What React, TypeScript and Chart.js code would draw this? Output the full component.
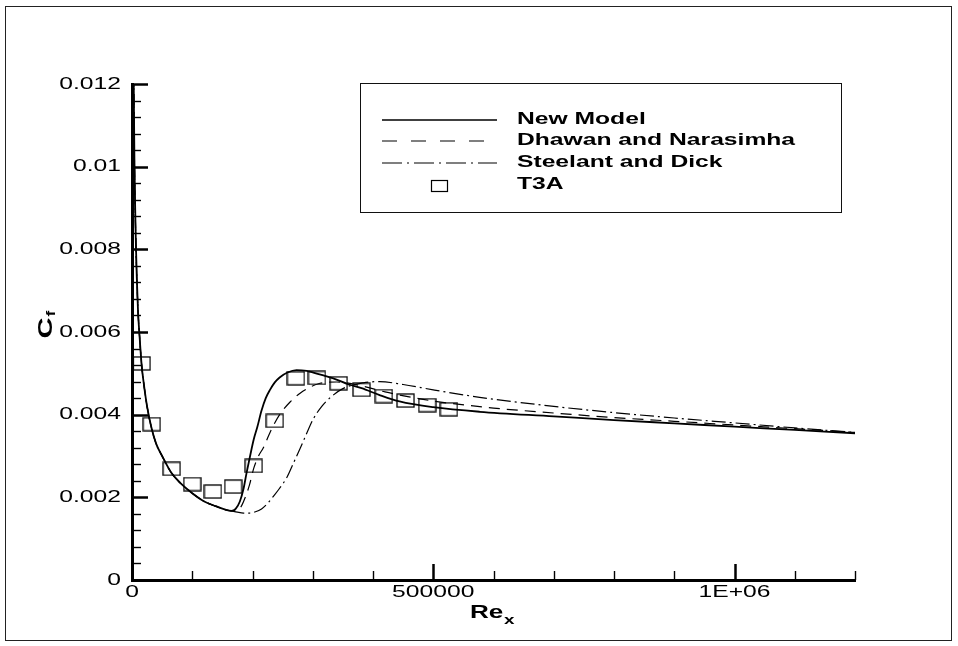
import React, { useEffect, useRef } from 'react';
import { Chart, registerables } from 'chart.js';

Chart.register(...registerables);

// ---- Data ----
const LAMINAR_RE = [2000, 3000, 4000, 5000, 6500, 8000, 10000, 13000, 16000, 20000, 25000, 32000, 40000, 50000, 65000, 80000, 100000, 120000, 140000, 155000];
const LAMINAR_CF = [0.0135, 0.0118, 0.0102, 0.0092, 0.0081, 0.0073, 0.0065, 0.0058, 0.0052, 0.0047, 0.0042, 0.0037, 0.0033, 0.0030, 0.0026, 0.00235, 0.0021, 0.0019, 0.00178, 0.0017];

const NEW_RE = [165000, 172000, 179000, 185000, 190000, 196000, 202000, 208000, 215000, 222000, 229000, 237000, 245000, 258000, 273000, 290000, 301000, 320000, 334000, 360000, 381000, 410000, 444000, 500000, 577000, 700000, 800000, 900000, 1000000, 1100000, 1200000];
const NEW_CF = [0.00167, 0.00172, 0.0019, 0.0022, 0.00258, 0.003, 0.0034, 0.0037, 0.0041, 0.0044, 0.0046, 0.00478, 0.0049, 0.00502, 0.00508, 0.00506, 0.00502, 0.00494, 0.00488, 0.00473, 0.00464, 0.00448, 0.00432, 0.00418, 0.00407, 0.00396, 0.00387, 0.00379, 0.00371, 0.00363, 0.00355];

const DN_RE = [165000, 175000, 182000, 188000, 195000, 202000, 210000, 218000, 230000, 245000, 262000, 279000, 295000, 312000, 340000, 380000, 420000, 460000, 500000, 600000, 700000, 800000, 900000, 1000000, 1100000, 1200000];
const DN_CF = [0.00167, 0.00168, 0.0018, 0.002, 0.0023, 0.0027, 0.003, 0.0032, 0.0036, 0.004, 0.0043, 0.00452, 0.00466, 0.00476, 0.00479, 0.0047, 0.00455, 0.00443, 0.00433, 0.00416, 0.00404, 0.00393, 0.00384, 0.00375, 0.00366, 0.00357];

const SD_RE = [165000, 175000, 185000, 195000, 205000, 215000, 225000, 235000, 245000, 257000, 268000, 279000, 290000, 301000, 315000, 328000, 350000, 384000, 411000, 450000, 500000, 577000, 700000, 800000, 900000, 1000000, 1100000, 1200000];
const SD_CF = [0.00167, 0.00164, 0.00162, 0.00162, 0.00165, 0.00172, 0.00185, 0.00203, 0.00222, 0.00248, 0.00283, 0.00318, 0.00355, 0.0039, 0.0042, 0.0044, 0.00463, 0.00477, 0.0048, 0.00473, 0.0046, 0.00442, 0.0042, 0.00405, 0.00392, 0.0038, 0.00368, 0.00357];

const T3A_RE = [16000, 32700, 65800, 100000, 134300, 168000, 202000, 237000, 272000, 307000, 343000, 381000, 418000, 454000, 490000, 526000];
const T3A_CF = [0.00524, 0.00377, 0.00269, 0.00232, 0.00214, 0.00226, 0.00276, 0.00385, 0.00488, 0.00489, 0.00476, 0.0046, 0.00445, 0.00434, 0.00423, 0.00413];

const SERIES_NAMES = ['New Model', 'Dhawan and Narasimha', 'Steelant and Dick', 'T3A'];

const Y_TICKS = [0, 0.002, 0.004, 0.006, 0.008, 0.01, 0.012];
const Y_TICK_LABELS = ['0', '0.002', '0.004', '0.006', '0.008', '0.01', '0.012'];
const X_TICKS = [0, 500000, 1000000];
const X_TICK_LABELS = ['0', '500000', '1E+06'];
const Y_MINOR_STEP = 0.0004;
const X_MINOR_STEP = 100000;

const X_MAX = 1200000;
const Y_MAX = 0.012;

const DASH_DN = [11, 7];
const DASH_SD = [14, 4, 2, 4];
const LEGEND_DASH_DN = [15, 14];
const LEGEND_DASH_SD = [20, 5, 2, 5];

const FONT_FAMILY = '"Liberation Sans", Arial, Helvetica, sans-serif';
const SX = 1.45; // horizontal stretch of the reference lettering

function toPts(xs: number[], ys: number[]) {
  return xs.map((x, i) => ({ x, y: ys[i] }));
}

function makeSquare(w: number, h: number) {
  const c = document.createElement('canvas');
  c.width = w + 2;
  c.height = h + 2;
  const g = c.getContext('2d')!;
  g.strokeStyle = '#000';
  g.lineWidth = 1.3;
  g.strokeRect(1, 1, w, h);
  return c;
}

function drawStretched(ctx: CanvasRenderingContext2D, text: string, x: number, y: number, align: CanvasTextAlign, baseline: CanvasTextBaseline, font: string) {
  ctx.save();
  ctx.translate(x, y);
  ctx.scale(SX, 1);
  ctx.font = font;
  ctx.textAlign = align;
  ctx.textBaseline = baseline;
  ctx.fillStyle = '#000';
  ctx.fillText(text, 0, 0);
  ctx.restore();
}

const decorPlugin = {
  id: 'decor',
  afterDraw(chart: any) {
    const ctx: CanvasRenderingContext2D = chart.ctx;
    const xs = chart.scales.x;
    const ys = chart.scales.y;
    const area = chart.chartArea;
    ctx.save();

    // outer frame
    ctx.strokeStyle = '#222';
    ctx.lineWidth = 1;
    ctx.strokeRect(5.5, 6.5, 946, 634);

    // y ticks (inward)
    ctx.strokeStyle = '#000';
    const nY = Math.round(Y_MAX / Y_MINOR_STEP);
    for (let i = 0; i <= nY; i++) {
      const v = i * Y_MINOR_STEP;
      const major = Y_TICKS.some((t) => Math.abs(t - v) < 1e-9);
      const py = Math.round(ys.getPixelForValue(v)) + 0.5;
      ctx.lineWidth = major ? 2.5 : 1.4;
      ctx.beginPath();
      ctx.moveTo(area.left, py);
      ctx.lineTo(area.left + (major ? 16 : 9), py);
      ctx.stroke();
    }
    // x ticks (inward)
    const nX = Math.round(X_MAX / X_MINOR_STEP);
    for (let i = 0; i <= nX; i++) {
      const v = i * X_MINOR_STEP;
      const major = X_TICKS.some((t) => Math.abs(t - v) < 1e-6);
      const px = Math.round(xs.getPixelForValue(v)) + 0.5;
      ctx.lineWidth = major ? 2.5 : 1.4;
      ctx.beginPath();
      ctx.moveTo(px, area.bottom);
      ctx.lineTo(px, area.bottom - (major ? 16 : 9));
      ctx.stroke();
    }

    // tick labels
    const tickFont = `17px ${FONT_FAMILY}`;
    Y_TICKS.forEach((v, i) => {
      drawStretched(ctx, Y_TICK_LABELS[i], area.left - 11, ys.getPixelForValue(v), 'right', 'middle', tickFont);
    });
    X_TICKS.forEach((v, i) => {
      drawStretched(ctx, X_TICK_LABELS[i], xs.getPixelForValue(v), area.bottom + 12, 'center', 'middle', tickFont);
    });

    // x title: Re_x
    drawStretched(ctx, 'Re', 470, 618, 'left', 'alphabetic', `bold 18px ${FONT_FAMILY}`);
    drawStretched(ctx, 'x', 504, 624, 'left', 'alphabetic', `bold 13px ${FONT_FAMILY}`);

    // y title: C_f (rotated)
    ctx.save();
    ctx.translate(46, 328);
    ctx.scale(1, 1.45);
    ctx.rotate(-Math.PI / 2);
    ctx.fillStyle = '#000';
    ctx.font = `bold 20px ${FONT_FAMILY}`;
    ctx.textAlign = 'center';
    ctx.textBaseline = 'middle';
    ctx.fillText('C', 0, 0);
    ctx.font = `bold 12px ${FONT_FAMILY}`;
    ctx.textAlign = 'left';
    ctx.fillText('f', 8, 6);
    ctx.restore();

    // legend
    ctx.strokeStyle = '#111';
    ctx.lineWidth = 1;
    ctx.strokeRect(360.5, 83.5, 481, 129);
    const rows = [119, 140, 162, 184.5];
    const styles: number[][] = [[], LEGEND_DASH_DN, LEGEND_DASH_SD];
    const widths = [1.7, 1.2, 1.2];
    for (let i = 0; i < 3; i++) {
      ctx.setLineDash(styles[i]);
      ctx.lineWidth = widths[i];
      ctx.strokeStyle = '#000';
      ctx.beginPath();
      ctx.moveTo(382, rows[i] + 1);
      ctx.lineTo(497, rows[i] + 1);
      ctx.stroke();
    }
    ctx.setLineDash([]);
    ctx.lineWidth = 1.2;
    ctx.strokeRect(431.5, 180.5, 16, 11);
    SERIES_NAMES.forEach((name, i) => {
      drawStretched(ctx, name, 517, rows[i], 'left', 'middle', `bold 17px ${FONT_FAMILY}`);
    });

    ctx.restore();
  },
};

export default function App() {
  const ref = useRef<HTMLCanvasElement | null>(null);

  useEffect(() => {
    if (!ref.current) return;
    const square = makeSquare(17, 13);
    const chart = new Chart(ref.current, {
      type: 'scatter',
      data: {
        datasets: [
          {
            label: SERIES_NAMES[0],
            data: toPts([...LAMINAR_RE, ...NEW_RE], [...LAMINAR_CF, ...NEW_CF]),
            showLine: true,
            borderColor: '#000',
            borderWidth: 1.8,
            pointRadius: 0,
            cubicInterpolationMode: 'monotone',
          },
          {
            label: SERIES_NAMES[1],
            data: toPts([...LAMINAR_RE, ...DN_RE], [...LAMINAR_CF, ...DN_CF]),
            showLine: true,
            borderColor: '#000',
            borderWidth: 1.2,
            borderDash: DASH_DN,
            pointRadius: 0,
            cubicInterpolationMode: 'monotone',
          },
          {
            label: SERIES_NAMES[2],
            data: toPts([...LAMINAR_RE, ...SD_RE], [...LAMINAR_CF, ...SD_CF]),
            showLine: true,
            borderColor: '#000',
            borderWidth: 1.2,
            borderDash: DASH_SD,
            pointRadius: 0,
            cubicInterpolationMode: 'monotone',
          },
          {
            label: SERIES_NAMES[3],
            data: toPts(T3A_RE, T3A_CF),
            showLine: false,
            pointStyle: square as any,
            pointRadius: 9,
            clip: false as any,
          },
        ] as any,
      },
      options: {
        animation: false,
        responsive: false,
        layout: { padding: { left: 0, top: 84, right: 103, bottom: 0 } },
        plugins: { legend: { display: false }, tooltip: { enabled: false } },
        scales: {
          x: {
            type: 'linear',
            min: 0,
            max: X_MAX,
            grid: { display: false },
            ticks: { display: false },
            border: { display: true, width: 3, color: '#000' },
            afterFit: (s: any) => { s.height = 66; },
          },
          y: {
            type: 'linear',
            min: 0,
            max: Y_MAX,
            grid: { display: false },
            ticks: { display: false },
            border: { display: true, width: 3, color: '#000' },
            afterFit: (s: any) => { s.width = 132; },
          },
        },
      } as any,
      plugins: [decorPlugin],
    });
    return () => chart.destroy();
  }, []);

  return (
    <div style={{ position: 'absolute', left: 0, top: 0, width: 958, height: 646, background: '#fff' }}>
      <canvas ref={ref} width={958} height={646} style={{ display: 'block' }} />
    </div>
  );
}
